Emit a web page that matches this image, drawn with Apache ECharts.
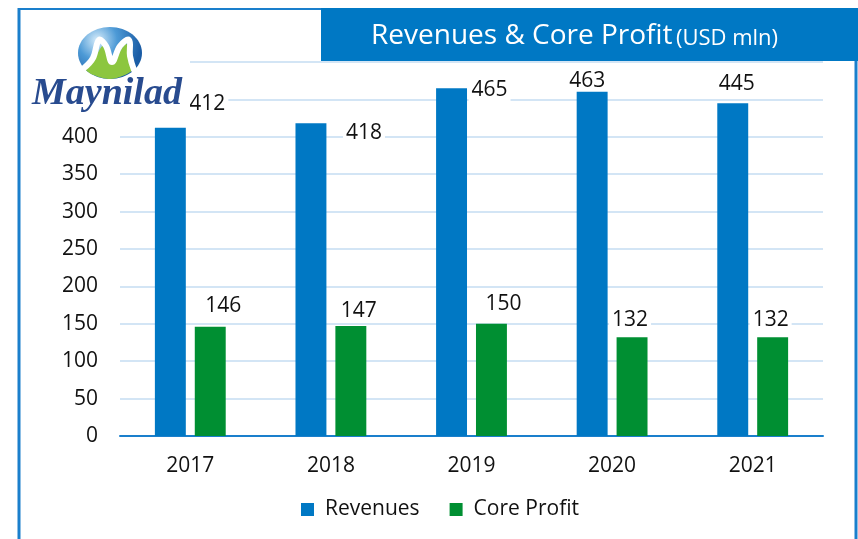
<!DOCTYPE html>
<html><head><meta charset="utf-8">
<script src="https://cdn.jsdelivr.net/npm/echarts@6/dist/echarts.min.js"></script>
<style>html,body{margin:0;padding:0;background:#fff}#c{width:858px;height:539px}</style>
</head><body><div id="c"></div>
<script>
const years = ['2017','2018','2019','2020','2021'];
const revenues = [412, 418, 465, 463, 445];
const coreProfit = [146, 147, 150, 132, 132];
const yTicks = [0, 50, 100, 150, 200, 250, 300, 350, 400, 450, 500];

// manual label nudges (as in the original slide)
const revOffsets = [[37,-13],[53,21],[38,13],[-5,2],[4,-8]];
const cpOffsets = [[13,-10],[8,-4],[12,-9],[-2,-6],[-2,-6]];

const FONT = '"Open Sans", "Noto Sans", sans-serif';
const BLUE = '#0078c4';
const GREEN = '#008f32';

const chart = echarts.init(document.getElementById('c'));
function labelFor(off){
  return {show:true, position:'top', distance:0, offset:off, color:'#111', fontSize:21,
          fontFamily:FONT, backgroundColor:'#fff', padding:[0,3], lineHeight:22};
}
chart.setOption({
  animation:false,
  grid:{left:120, right:35, top:62, bottom:103},
  legend:{left:296, top:494, itemWidth:13, itemHeight:13, itemGap:30,
    icon:'rect', textStyle:{fontSize:21, fontFamily:FONT, color:'#111', padding:[0,0,0,6]},
    data:['Revenues','Core Profit']},
  xAxis:{type:'category', data:years,
    axisLine:{lineStyle:{color:'#1a7fcc', width:2}}, axisTick:{show:false},
    axisLabel:{fontSize:21, fontFamily:FONT, color:'#111', margin:20}},
  yAxis:{type:'value', min:yTicks[0], max:yTicks[yTicks.length-1], interval:50,
    axisLine:{show:false}, axisTick:{show:false},
    axisLabel:{fontSize:21, fontFamily:FONT, color:'#111', margin:22},
    splitLine:{lineStyle:{color:'#d3e5f5', width:2}}},
  series:[
    {name:'Revenues', type:'bar', data:revenues.map((v,i)=>({value:v, label:labelFor(revOffsets[i])})),
     barWidth:'22%', barGap:'29%', itemStyle:{color:BLUE}, z:3},
    {name:'Core Profit', type:'bar', data:coreProfit.map((v,i)=>({value:v, label:labelFor(cpOffsets[i])})),
     barWidth:'22%', itemStyle:{color:GREEN}, z:3}
  ],
  graphic:[
    // outer frame
    {type:'line', shape:{x1:18,y1:9,x2:322,y2:9}, style:{stroke:'#1a7fcc', lineWidth:2}, z:100},
    {type:'line', shape:{x1:19,y1:8,x2:19,y2:539}, style:{stroke:'#1a7fcc', lineWidth:3}, z:100},
    {type:'line', shape:{x1:856,y1:61,x2:856,y2:539}, style:{stroke:'#1a7fcc', lineWidth:3}, z:100},
    // title box
    {type:'rect', shape:{x:321,y:8,width:540,height:53}, style:{fill:BLUE}, z:100},
    {type:'text', left:371, top:22, z:101,
      style:{text:'{a|Revenues & Core Profit} {b|(USD mln)}', rich:{
        a:{fontSize:28, fontFamily:FONT, fill:'#fff', verticalAlign:'bottom'},
        b:{fontSize:22, fontFamily:FONT, fill:'#fff', verticalAlign:'bottom'}}}},
    // logo
    {type:'rect', shape:{x:26,y:16,width:164,height:96}, style:{fill:'#fff'}, z:100},
    {type:'ellipse', shape:{cx:110,cy:53,rx:32,ry:26}, z:101,
      style:{fill:new echarts.graphic.RadialGradient(0.3,0.25,0.85,[{offset:0,color:'#d6ecfa'},{offset:0.45,color:'#4d9ad6'},{offset:1,color:'#1a5ca5'}])}},
    {type:'polygon', z:102, shape:{points:[[86,70],[96,56],[103,46],[112,62],[126,44],[133,58],[133,70],[110,79]], smooth:0.3},
      style:{fill:'#8cc63f'}},
    {type:'polyline', z:103, shape:{points:[[84,68],[93,58],[99,40],[106,46],[112,62],[120,46],[129,40],[130,56],[134,70]], smooth:0.4},
      style:{fill:null, stroke:'#fff', lineWidth:6, lineCap:'round', lineJoin:'round'}},
    {type:'text', left:32, top:75, z:101,
      style:{text:'Maynilad', fontSize:38, fontFamily:'"Liberation Serif", "DejaVu Serif", serif', fontStyle:'italic', fontWeight:'bold', fill:'#284b8f'}}
  ]
});
</script></body></html>
